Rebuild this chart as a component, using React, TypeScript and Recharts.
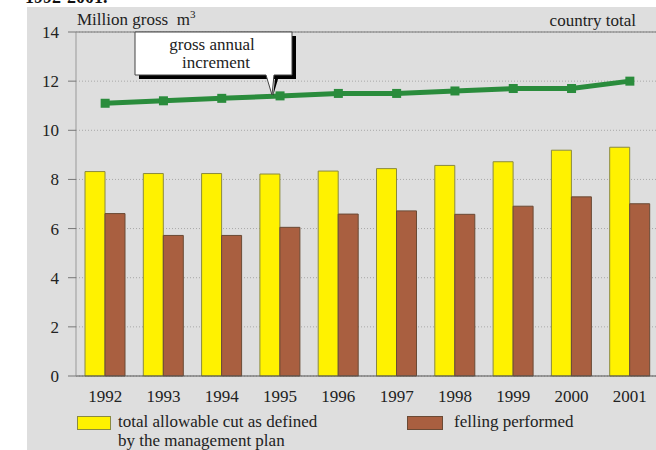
import React from 'react';
import {
  ComposedChart,
  Bar,
  Line,
  XAxis,
  YAxis,
  CartesianGrid,
  ReferenceLine
} from 'recharts';

// values (million gross m3)
const years = ['1992', '1993', '1994', '1995', '1996', '1997', '1998', '1999', '2000', '2001'];
const allowableCut = [8.32, 8.24, 8.24, 8.22, 8.34, 8.44, 8.57, 8.72, 9.19, 9.31];
const fellingPerformed = [6.61, 5.72, 5.72, 6.05, 6.59, 6.72, 6.58, 6.91, 7.29, 7.01];
const annualIncrement = [11.1, 11.2, 11.3, 11.4, 11.5, 11.5, 11.6, 11.7, 11.7, 12.0];
const yTicks = [0, 2, 4, 6, 8, 10, 12, 14];

const data = years.map((year, i) => ({
  year,
  cut: allowableCut[i],
  felling: fellingPerformed[i],
  increment: annualIncrement[i]
}));

const FONT = "'Liberation Serif', 'Times New Roman', serif";
const YELLOW = '#fff200';
const BROWN = '#a95f40';
const GREEN = '#2a8c3c';

const SquareDot = (props: any) => {
  const { cx, cy } = props;
  if (cx == null || cy == null) return null;
  return <rect x={cx - 4.5} y={cy - 4.5} width={9} height={9} fill={GREEN} />;
};

// legend drawn as plain html so it doesn't eat into the plot area
const ChartLegend = () => (
  <div style={{ position: 'absolute', left: 77, top: 413, width: 560, height: 40, fontFamily: FONT, fontSize: 17, color: '#222' }}>
    <div style={{ position: 'absolute', left: 0, top: 3, width: 32, height: 12, background: YELLOW, border: '1px solid #8a8a40' }} />
    <div style={{ position: 'absolute', left: 41, top: -1, lineHeight: '19px', whiteSpace: 'nowrap' }}>
      total allowable cut as defined<br />by the management plan
    </div>
    <div style={{ position: 'absolute', left: 330, top: 3, width: 34, height: 12, background: BROWN, border: '1px solid #6a4a35' }} />
    <div style={{ position: 'absolute', left: 377, top: -1, lineHeight: '19px', whiteSpace: 'nowrap' }}>felling performed</div>
  </div>
);

const App = () => {
  return (
    <div style={{ position: 'absolute', left: 0, top: 0, width: 656, height: 450, overflow: 'hidden', background: '#fff' }}>
      <div style={{ position: 'absolute', left: 25, top: -13, fontFamily: FONT, fontSize: 18, fontWeight: 'bold', color: '#111', whiteSpace: 'nowrap' }}>
        1992-2001.
      </div>
      <div style={{ position: 'absolute', left: 27, top: 7, width: 640, height: 450, background: '#dedede' }} />
      <div style={{ position: 'absolute', left: 77, top: 8, fontFamily: FONT, fontSize: 17, color: '#222', whiteSpace: 'nowrap' }}>
        Million gross&nbsp; m<sup style={{ fontSize: 11 }}>3</sup>
      </div>
      <div style={{ position: 'absolute', right: 20, top: 11, fontFamily: FONT, fontSize: 17, color: '#222', whiteSpace: 'nowrap' }}>
        country total
      </div>
      <div style={{ position: 'absolute', left: 0, top: 0 }}>
        <ComposedChart
          width={672}
          height={450}
          data={data}
          margin={{ top: 32, right: 13, bottom: 44, left: 0 }}
          barGap={0}
        >
          <CartesianGrid vertical={false} stroke="#a8a8a8" strokeDasharray="1 2" />
          <XAxis
            dataKey="year"
            axisLine={{ stroke: '#555' }}
            tickLine={false}
            tickMargin={8}
            height={30}
            tick={{ fontFamily: FONT, fontSize: 17, fill: '#222' }}
          />
          <YAxis
            width={76}
            domain={[0, 14]}
            ticks={yTicks}
            interval={0}
            axisLine={{ stroke: '#999' }}
            tickLine={{ stroke: '#777' }}
            tickSize={8}
            tickMargin={9}
            tick={{ fontFamily: FONT, fontSize: 17, fill: '#222' }}
          />
          <ReferenceLine y={14} stroke="#777" />
          <Bar dataKey="cut" barSize={20} fill={YELLOW} stroke="#8a8a40" strokeWidth={1} isAnimationActive={false} />
          <Bar dataKey="felling" barSize={20} fill={BROWN} stroke="#6a4a35" strokeWidth={1} isAnimationActive={false} />
          <Line
            dataKey="increment"
            stroke={GREEN}
            strokeWidth={5}
            dot={<SquareDot />}
            activeDot={false}
            isAnimationActive={false}
          />
        </ComposedChart>
      </div>
      <ChartLegend />
      <svg style={{ position: 'absolute', left: 0, top: 0 }} width={656} height={450}>
        <path d="M 139 36 L 296 36 L 296 79 L 278 79 L 273 96 L 275 79 L 139 79 Z" fill="#000" />
        <path d="M 135 32 L 292 32 L 292 75 L 274 75 L 272 95 L 266 75 L 135 75 Z" fill="#fff" stroke="#444" strokeWidth={1} />
        <text x={212} y={50} textAnchor="middle" fontFamily={FONT} fontSize={17} fill="#222">gross annual</text>
        <text x={216} y={68} textAnchor="middle" fontFamily={FONT} fontSize={17} fill="#222">increment</text>
      </svg>
    </div>
  );
};

export default App;
